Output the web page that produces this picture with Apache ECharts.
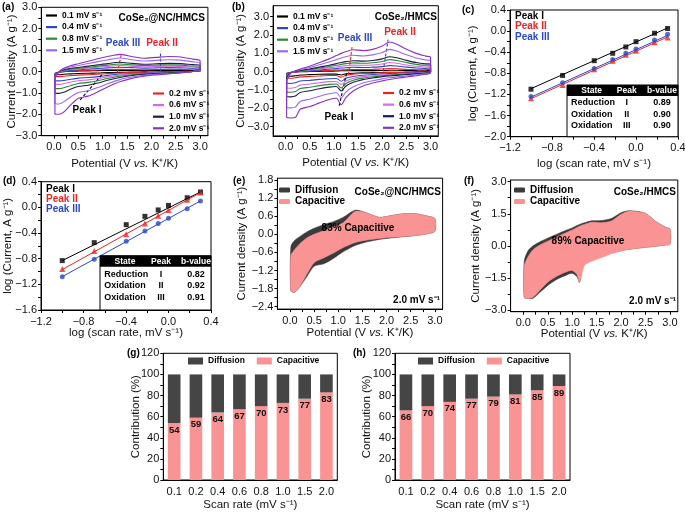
<!DOCTYPE html>
<html>
<head>
<meta charset="utf-8">
<script src="https://cdn.jsdelivr.net/npm/echarts@6/dist/echarts.min.js"></script>
<style>
  html, body { margin: 0; padding: 0; background: #fff; }
  #chart { width: 685px; height: 512px; }
</style>
</head>
<body>
<div id="chart"></div>
<script>
const FONT = "'Liberation Sans', Arial, Helvetica, sans-serif";

// scan rates (mV/s) shared by every panel
const rateNames = ['0.1', '0.2', '0.4', '0.6', '0.8', '1.0', '1.5', '2.0'];
const logRate = [-1.0, -0.699, -0.398, -0.222, -0.097, 0.0, 0.176, 0.301];

// (a) CoSe2@NC/HMCS CV curves: anodic (up) and cathodic (lo) branches
const potA = [0.02, 0.1, 0.2, 0.35, 0.5, 0.7, 0.9, 1.1, 1.35, 1.6, 1.85, 2.1, 2.35, 2.6, 2.85, 3.0];
const aUp01 = [-0.08, -0.04, -0.01, 0.01, 0.02, 0.03, 0.04, 0.05, 0.05, 0.05, 0.04, 0.05, 0.05, 0.05, 0.05, 0.08];
const aLo01 = [-0.14, -0.15, -0.13, -0.11, -0.09, -0.08, -0.07, -0.05, -0.04, -0.03, -0.02, -0.02, -0.01, -0.01, 0.00, 0.01];
const aUp02 = [-0.10, -0.04, 0.00, 0.03, 0.04, 0.06, 0.07, 0.09, 0.10, 0.09, 0.08, 0.09, 0.10, 0.09, 0.08, 0.12];
const aLo02 = [-0.22, -0.24, -0.22, -0.19, -0.17, -0.15, -0.13, -0.10, -0.07, -0.05, -0.04, -0.03, -0.02, -0.01, 0.00, 0.02];
const aUp04 = [-0.12, -0.03, 0.02, 0.06, 0.08, 0.11, 0.14, 0.17, 0.20, 0.18, 0.16, 0.17, 0.18, 0.17, 0.15, 0.18];
const aLo04 = [-0.42, -0.44, -0.42, -0.36, -0.31, -0.28, -0.24, -0.18, -0.12, -0.09, -0.07, -0.05, -0.04, -0.02, 0.00, 0.03];
const aUp06 = [-0.15, -0.03, 0.04, 0.09, 0.12, 0.16, 0.20, 0.24, 0.28, 0.25, 0.22, 0.24, 0.25, 0.24, 0.21, 0.22];
const aLo06 = [-0.60, -0.60, -0.57, -0.49, -0.43, -0.39, -0.33, -0.25, -0.17, -0.12, -0.09, -0.06, -0.05, -0.03, 0.00, 0.04];
const aUp08 = [-0.18, -0.03, 0.06, 0.12, 0.15, 0.20, 0.25, 0.30, 0.35, 0.31, 0.28, 0.30, 0.31, 0.30, 0.26, 0.26];
const aLo08 = [-0.80, -0.80, -0.76, -0.65, -0.56, -0.51, -0.43, -0.33, -0.22, -0.15, -0.11, -0.08, -0.06, -0.03, 0.00, 0.05];
const aUp10 = [-0.20, -0.02, 0.08, 0.15, 0.19, 0.25, 0.31, 0.37, 0.43, 0.38, 0.34, 0.36, 0.38, 0.37, 0.32, 0.30];
const aLo10 = [-1.00, -1.02, -0.97, -0.82, -0.70, -0.64, -0.54, -0.41, -0.28, -0.19, -0.13, -0.10, -0.07, -0.04, 0.00, 0.06];
const aUp15 = [-0.25, -0.02, 0.12, 0.22, 0.28, 0.37, 0.46, 0.54, 0.63, 0.55, 0.49, 0.52, 0.55, 0.53, 0.45, 0.40];
const aLo15 = [-1.50, -1.52, -1.42, -1.18, -0.98, -0.90, -0.75, -0.57, -0.38, -0.26, -0.18, -0.13, -0.09, -0.06, 0.00, 0.08];
const aUp20 = [-0.30, -0.02, 0.15, 0.28, 0.36, 0.48, 0.60, 0.70, 0.80, 0.70, 0.62, 0.66, 0.70, 0.68, 0.58, 0.50];
const aLo20 = [-2.00, -2.00, -1.90, -1.55, -1.25, -1.15, -0.95, -0.72, -0.48, -0.32, -0.22, -0.16, -0.11, -0.07, 0.00, 0.10];

// (b) CoSe2/HMCS CV curves
const potB = [0.02, 0.1, 0.2, 0.3, 0.5, 0.7, 0.9, 1.05, 1.15, 1.25, 1.4, 1.6, 1.8, 2.0, 2.15, 2.3, 2.5, 2.7, 2.9, 3.0];
const bUp01 = [-0.08, -0.04, -0.02, 0.00, 0.01, 0.02, 0.03, 0.04, 0.05, 0.05, 0.06, 0.06, 0.06, 0.07, 0.08, 0.08, 0.07, 0.06, 0.05, 0.10];
const bLo01 = [-0.25, -0.25, -0.22, -0.18, -0.16, -0.14, -0.13, -0.13, -0.18, -0.11, -0.08, -0.06, -0.05, -0.04, -0.03, -0.03, -0.02, -0.02, -0.01, 0.00];
const bUp02 = [-0.10, -0.04, -0.01, 0.01, 0.03, 0.05, 0.07, 0.09, 0.10, 0.11, 0.12, 0.12, 0.13, 0.15, 0.17, 0.16, 0.13, 0.11, 0.10, 0.14];
const bLo02 = [-0.35, -0.36, -0.33, -0.28, -0.26, -0.23, -0.21, -0.21, -0.30, -0.19, -0.14, -0.10, -0.08, -0.06, -0.05, -0.05, -0.04, -0.03, -0.02, 0.00];
const bUp04 = [-0.15, -0.04, 0.00, 0.03, 0.06, 0.10, 0.14, 0.17, 0.20, 0.22, 0.24, 0.23, 0.25, 0.28, 0.33, 0.31, 0.25, 0.20, 0.18, 0.22];
const bLo04 = [-0.62, -0.64, -0.60, -0.51, -0.47, -0.42, -0.38, -0.37, -0.52, -0.35, -0.26, -0.19, -0.15, -0.12, -0.10, -0.09, -0.07, -0.05, -0.03, -0.01];
const bUp06 = [-0.20, -0.05, 0.00, 0.04, 0.09, 0.15, 0.21, 0.26, 0.30, 0.33, 0.36, 0.35, 0.37, 0.42, 0.50, 0.46, 0.37, 0.30, 0.26, 0.28];
const bLo06 = [-0.88, -0.90, -0.86, -0.73, -0.67, -0.60, -0.54, -0.53, -0.70, -0.50, -0.37, -0.27, -0.22, -0.17, -0.15, -0.13, -0.10, -0.08, -0.05, -0.02];
const bUp08 = [-0.25, -0.05, 0.01, 0.05, 0.12, 0.20, 0.28, 0.35, 0.40, 0.44, 0.48, 0.46, 0.49, 0.56, 0.66, 0.61, 0.50, 0.40, 0.35, 0.36];
const bLo08 = [-1.10, -1.12, -1.08, -0.92, -0.85, -0.76, -0.69, -0.67, -0.88, -0.64, -0.47, -0.35, -0.28, -0.22, -0.19, -0.16, -0.13, -0.10, -0.06, -0.02];
const bUp10 = [-0.30, -0.06, 0.02, 0.07, 0.15, 0.25, 0.35, 0.44, 0.50, 0.55, 0.60, 0.58, 0.61, 0.70, 0.82, 0.76, 0.62, 0.50, 0.43, 0.42];
const bLo10 = [-1.35, -1.37, -1.33, -1.13, -1.04, -0.93, -0.84, -0.81, -1.05, -0.78, -0.58, -0.43, -0.34, -0.27, -0.23, -0.20, -0.16, -0.12, -0.08, -0.03];
const bUp15 = [-0.45, -0.08, 0.04, 0.11, 0.23, 0.38, 0.53, 0.66, 0.75, 0.82, 0.90, 0.86, 0.92, 1.05, 1.22, 1.13, 0.92, 0.75, 0.64, 0.60];
const bLo15 = [-1.95, -1.97, -1.93, -1.62, -1.50, -1.34, -1.20, -1.15, -1.42, -1.10, -0.82, -0.61, -0.49, -0.39, -0.33, -0.28, -0.23, -0.17, -0.11, -0.04];
const bUp20 = [-0.50, -0.10, 0.05, 0.15, 0.30, 0.50, 0.70, 0.88, 1.00, 1.10, 1.20, 1.15, 1.22, 1.40, 1.62, 1.50, 1.22, 1.00, 0.85, 0.78];
const bLo20 = [-2.50, -2.52, -2.50, -2.05, -1.90, -1.70, -1.52, -1.45, -1.80, -1.40, -1.05, -0.78, -0.62, -0.50, -0.42, -0.36, -0.29, -0.22, -0.14, -0.05];

// dashed peak-shift arrows: [start, end] in data units
const arrowsA = [[[0.98, -0.16], [0.53, -1.35]], [[1.30, -0.05], [1.39, 0.86]], [[2.18, 0.0], [2.18, 0.95]]];
const arrowsB = [[[1.26, -0.10], [1.10, -1.95]], [[1.30, -0.17], [1.38, 1.45]], [[2.02, 0.02], [2.12, 1.75]]];

// (c) / (d) log(peak current) vs log(scan rate)
const cPeak1 = [-1.10, -0.84, -0.56, -0.42, -0.30, -0.20, -0.04, 0.05];
const cPeak2 = [-1.27, -1.02, -0.72, -0.56, -0.45, -0.37, -0.21, -0.12];
const cPeak3 = [-1.24, -0.98, -0.71, -0.54, -0.42, -0.34, -0.17, -0.06];
const cFit1 = [[-1.0, -1.09], [0.301, 0.06]];
const cFit2 = [[-1.0, -1.28], [0.301, -0.11]];
const cFit3 = [[-1.0, -1.25], [0.301, -0.08]];
const dPeak1 = [-0.83, -0.55, -0.27, -0.14, -0.04, 0.03, 0.15, 0.24];
const dPeak2 = [-0.96, -0.68, -0.42, -0.25, -0.13, -0.04, 0.12, 0.23];
const dPeak3 = [-1.08, -0.81, -0.53, -0.37, -0.25, -0.17, -0.02, 0.10];
const dFit1 = [[-1.0, -0.83], [0.301, 0.24]];
const dFit2 = [[-1.0, -0.97], [0.301, 0.23]];
const dFit3 = [[-1.0, -1.08], [0.301, 0.10]];
const tableHeader = ['State', 'Peak', 'b-value'];
const tableC = [['Reduction', 'I', '0.89'], ['Oxidation', 'II', '0.90'], ['Oxidation', 'III', '0.90']];
const tableD = [['Reduction', 'I', '0.82'], ['Oxidation', 'II', '0.92'], ['Oxidation', 'III', '0.91']];

// (e) / (f) total (diffusion) vs capacitive CV at 2.0 mV/s
const potE = [0.02, 0.1, 0.2, 0.35, 0.5, 0.7, 0.9, 1.1, 1.35, 1.6, 1.85, 2.1, 2.35, 2.6, 2.85, 3.0];
const eTotUp = [-0.40, -0.20, -0.08, 0.08, 0.20, 0.32, 0.42, 0.56, 0.80, 0.70, 0.56, 0.62, 0.68, 0.68, 0.60, 0.52];
const eTotLo = [-1.88, -1.92, -1.75, -1.40, -1.06, -0.98, -0.80, -0.58, -0.37, -0.25, -0.17, -0.12, -0.08, -0.04, 0.02, 0.10];
const eCapUp = [-0.70, -0.50, -0.32, -0.12, 0.00, 0.12, 0.24, 0.38, 0.76, 0.70, 0.56, 0.62, 0.68, 0.68, 0.60, 0.52];
const eCapLo = [-1.88, -1.92, -1.75, -1.32, -0.94, -0.78, -0.62, -0.44, -0.27, -0.19, -0.14, -0.10, -0.07, -0.04, 0.02, 0.10];
const potF = [0.02, 0.1, 0.2, 0.35, 0.5, 0.7, 0.9, 1.0, 1.1, 1.15, 1.25, 1.4, 1.6, 1.8, 2.0, 2.15, 2.3, 2.5, 2.7, 2.9, 3.0];
const fTotUp = [-0.70, -0.22, 0.00, 0.20, 0.36, 0.56, 0.75, 0.84, 0.95, 1.00, 1.08, 1.17, 1.18, 1.28, 1.55, 1.64, 1.62, 1.52, 1.15, 0.88, 0.78];
const fTotLo = [-2.42, -2.45, -2.45, -2.15, -1.85, -1.55, -1.35, -1.28, -1.45, -1.72, -0.60, -0.55, -0.48, -0.34, -0.22, -0.16, -0.12, -0.07, -0.02, 0.04, 0.08];
const fCapUp = [-0.95, -0.50, -0.18, 0.05, 0.22, 0.43, 0.64, 0.74, 0.86, 0.92, 1.00, 1.10, 1.08, 1.16, 1.48, 1.62, 1.60, 1.52, 1.15, 0.88, 0.78];
const fCapLo = [-2.42, -2.45, -2.40, -2.05, -1.70, -1.40, -1.20, -1.15, -1.35, -1.72, -0.92, -0.72, -0.55, -0.37, -0.24, -0.17, -0.12, -0.07, -0.02, 0.04, 0.08];

// (g) / (h) contribution (%)
const gCap = [54, 59, 64, 67, 70, 73, 77, 83];
const gDif = [46, 41, 36, 33, 30, 27, 23, 17];
const hCap = [66, 70, 74, 77, 79, 81, 85, 89];
const hDif = [34, 30, 26, 23, 21, 19, 15, 11];

// ticks and tick labels
const cvXTicks = [0, 0.25, 0.5, 0.75, 1, 1.25, 1.5, 1.75, 2, 2.25, 2.5, 2.75, 3];
const cvXLabels = [0, 0.5, 1, 1.5, 2, 2.5, 3];
const abYTicks = [-3, -2.5, -2, -1.5, -1, -0.5, 0, 0.5, 1, 1.5, 2, 2.5, 3];
const abYLabels = [-3, -2, -1, 0, 1, 2, 3];
const logXTicks = [-1.2, -1.0, -0.8, -0.6, -0.4, -0.2, 0, 0.2, 0.4];
const logXLabels = [-1.2, -0.8, -0.4, 0, 0.4];
const cYTicks = [-2.0, -1.8, -1.6, -1.4, -1.2, -1.0, -0.8, -0.6, -0.4, -0.2, 0, 0.2, 0.4];
const cYLabels = [-2.0, -1.6, -1.2, -0.8, -0.4, 0, 0.4];
const dYTicks = [-1.6, -1.4, -1.2, -1.0, -0.8, -0.6, -0.4, -0.2, 0, 0.2, 0.4];
const dYLabels = [-1.6, -1.2, -0.8, -0.4, 0, 0.4];
const eYTicks = [-2.4, -2.1, -1.8, -1.5, -1.2, -0.9, -0.6, -0.3, 0, 0.3, 0.6, 0.9, 1.2, 1.5, 1.8];
const eYLabels = [-2.4, -1.8, -1.2, -0.6, 0, 0.6, 1.2, 1.8];
const fYTicks = [-3, -2.25, -1.5, -0.75, 0, 0.75, 1.5, 2.25, 3];
const fYLabels = [-3, -1.5, 0, 1.5, 3];
const barYTicks = [0, 10, 20, 30, 40, 50, 60, 70, 80, 90, 100, 110, 120];
const barYLabels = [0, 20, 40, 60, 80, 100, 120];

const rateColors = ['#000000', '#ee2424', '#2c48c8', '#d468ea', '#2b8a2b', '#1c1c4e', '#9a6af0', '#8a32c2'];
const peakColors = ['#000000', '#ee2424', '#2c48c8'];
const DARK = '#3b3b3b';
const PINK = '#fa9393';
const rateLabels = rateNames.map(r => r + ' mV s\u207B\u00B9');
const SUP = ' (A g\u207B\u00B9)';

const chart = echarts.init(document.getElementById('chart'), null, { renderer: 'canvas' });

function loopPts(pot, up, lo) {
  const pts = pot.map((p, i) => [p, up[i]]);
  for (let i = pot.length - 1; i >= 0; i--) pts.push([pot[i], lo[i]]);
  return pts;
}

const fmt1 = v => (v < -1e-9 ? '\u2212' : '') + Math.abs(v).toFixed(1);
const fmt0 = v => String(v);
const nameStyle = { fontSize: 11.5, color: '#111', fontFamily: FONT };
const potName = 'Potential (V {i|vs.} K\u207A/K)';
const potNameStyle = Object.assign({}, nameStyle, { rich: { i: { fontStyle: 'italic', fontSize: 11.5, color: '#111', fontFamily: FONT } } });
const axisLine = { show: true, onZero: false, lineStyle: { color: '#000', width: 1 } };

function valueAxis(gi, min, max, ticks, labels, fmt, name, gap, extra) {
  return Object.assign({
    type: 'value', gridIndex: gi, min: min, max: max,
    name: name, nameLocation: 'middle', nameGap: gap, nameMoveOverlap: false,
    nameTextStyle: nameStyle,
    axisLine: axisLine,
    axisTick: { show: true, length: 3, customValues: ticks, lineStyle: { color: '#000', width: 1 } },
    axisLabel: { customValues: labels, formatter: fmt, fontSize: 11, color: '#111', margin: 4, fontFamily: FONT },
    splitLine: { show: false }
  }, extra || {});
}
function xLabel(ticks, labels, fmt) {
  return {
    axisLabel: { customValues: labels, formatter: fmt, fontSize: 11, color: '#111', margin: 6, fontFamily: FONT }
  };
}

function catAxis(gi, gap) {
  return {
    type: 'category', gridIndex: gi, data: rateNames,
    name: 'Scan rate (mV s\u207B\u00B9)', nameLocation: 'middle', nameGap: gap, nameMoveOverlap: false,
    nameTextStyle: nameStyle,
    axisLine: axisLine,
    axisTick: { alignWithLabel: true, length: 3, lineStyle: { color: '#000' } },
    axisLabel: { interval: 0, fontSize: 11, color: '#111', margin: 6, fontFamily: FONT },
    splitLine: { show: false }
  };
}

function grid(left, top, width, height) {
  return { left, top, width, height, show: true, borderColor: '#000', borderWidth: 1,
    containLabel: false, outerBoundsMode: 'none' };
}

function cvSeries(gi, pot, ups, los, arrows) {
  return ups.map((up, i) => {
    const s = {
      type: 'line', name: rateLabels[i], xAxisIndex: gi, yAxisIndex: gi,
      data: loopPts(pot, up, los[i]).concat([[pot[0], up[0]]]),
      symbol: 'none', smooth: 0.25, silent: true, z: 2 + i,
      lineStyle: { color: rateColors[i], width: 1.1 }, itemStyle: { color: rateColors[i] }
    };
    if (i === 0) {
      s.markLine = {
        silent: true, symbol: ['none', 'arrow'], symbolSize: [0, 6], animation: false,
        label: { show: false }, emphasis: { disabled: true },
        data: arrows.map((a, k) => [
          { coord: a[0], lineStyle: { color: peakColors[k], type: [3, 2], width: 1.1 }, itemStyle: { color: peakColors[k] } },
          { coord: a[1] }
        ])
      };
    }
    return s;
  });
}

function peakSeries(gi, peaks, fits) {
  const syms = ['rect', 'triangle', 'circle'];
  const out = [];
  peaks.forEach((p, k) => {
    out.push({ type: 'line', xAxisIndex: gi, yAxisIndex: gi, data: fits[k], symbol: 'none', silent: true,
      lineStyle: { color: peakColors[k], width: 1 } });
    out.push({ type: 'scatter', xAxisIndex: gi, yAxisIndex: gi, data: logRate.map((x, i) => [x, p[i]]),
      symbol: syms[k], symbolSize: k === 1 ? 6 : 5, silent: true, itemStyle: { color: peakColors[k] } });
  });
  return out;
}

function polySeries(name, gi, pot, up, lo, color, z) {
  const pts = loopPts(pot, up, lo);
  return {
    type: 'custom', name: name, xAxisIndex: gi, yAxisIndex: gi, silent: true, z: z,
    data: [pts[0]], itemStyle: { color: color },
    renderItem: (params, api) => ({
      type: 'polygon',
      shape: { points: pts.map(p => api.coord(p)), smooth: 0.25 },
      style: { fill: color, stroke: color, lineWidth: 0.6 }
    })
  };
}

function barSeries(gi, cap, dif, stack) {
  return [
    { type: 'bar', name: 'Capacitive', xAxisIndex: gi, yAxisIndex: gi, stack: stack, data: cap,
      barWidth: '58%', itemStyle: { color: PINK }, silent: true,
      label: { show: true, position: 'insideTop', distance: 2, color: '#111', fontSize: 9.5, fontWeight: 'bold', fontFamily: FONT } },
    { type: 'bar', name: 'Diffusion', xAxisIndex: gi, yAxisIndex: gi, stack: stack, data: dif,
      barWidth: '58%', itemStyle: { color: '#454545' }, silent: true }
  ];
}

function lineLegend(names, left, top) {
  return { data: names.map(n => ({ name: n, icon: 'rect' })), left, top, orient: 'vertical', padding: 0,
    itemWidth: 11, itemHeight: 2.2, itemGap: 2.6, selectedMode: false,
    textStyle: { fontSize: 8.5, fontWeight: 'bold', color: '#000', fontFamily: FONT } };
}
function areaLegend(left, top) {
  return { left, top, orient: 'vertical', padding: 0, itemWidth: 11, itemHeight: 5, itemGap: 1.5, selectedMode: false,
    data: [{ name: 'Diffusion', icon: 'roundRect', itemStyle: { color: DARK } },
           { name: 'Capacitive', icon: 'roundRect', itemStyle: { color: PINK } }],
    textStyle: { fontSize: 10, fontWeight: 'bold', color: '#000', fontFamily: FONT } };
}
function barLegend(left, top) {
  return { left, top, orient: 'horizontal', padding: 0, itemWidth: 15, itemHeight: 7, itemGap: 12, selectedMode: false,
    data: [{ name: 'Diffusion', icon: 'rect', itemStyle: { color: '#454545' } },
           { name: 'Capacitive', icon: 'rect', itemStyle: { color: PINK } }],
    textStyle: { fontSize: 8.5, fontWeight: 'bold', color: '#000', fontFamily: FONT } };
}

function txt(x, y, text, o) {
  o = o || {};
  const align = o.align || 'left';
  return { type: 'text', x: x, y: y, z: 100, silent: true,
    style: { text: text, fill: o.fill || '#000', font: (o.font || 'bold 10px') + ' ' + FONT,
      align: align, verticalAlign: 'middle', textAlign: align, textVerticalAlign: 'middle' } };
}

function tableEls(x, y, w, h, hh, cols, rowLeft, rowYs, rows) {
  const els = [
    { type: 'rect', z: 90, silent: true, shape: { x: x, y: y, width: w, height: h }, style: { fill: '#fff', stroke: '#000', lineWidth: 1 } },
    { type: 'rect', z: 91, silent: true, shape: { x: x, y: y, width: w, height: hh }, style: { fill: '#000' } }
  ];
  tableHeader.forEach((t, i) => els.push(txt(cols[i], y + hh / 2 + 0.5, t, { fill: '#fff', align: 'center', font: 'bold 8.5px' })));
  rows.forEach((r, j) => {
    els.push(txt(rowLeft, rowYs[j], r[0], { font: 'bold 9px' }));
    els.push(txt(cols[1], rowYs[j], r[1], { align: 'center', font: 'bold 9px' }));
    els.push(txt(cols[2], rowYs[j], r[2], { align: 'center', font: 'bold 9px' }));
  });
  return els;
}

const graphics = [
  txt(2, 7, '(a)'),
  txt(205, 18, 'CoSe\u2082@NC/HMCS', { align: 'right' }),
  txt(123, 43, 'Peak III', { align: 'center', fill: peakColors[2] }),
  txt(162, 43, 'Peak II', { align: 'center', fill: peakColors[1] }),
  txt(87, 110, 'Peak I', { align: 'center' }),
  txt(232, 7, '(b)'),
  txt(437, 17, 'CoSe\u2082/HMCS', { align: 'right' }),
  txt(355, 38, 'Peak III', { align: 'center', fill: peakColors[2] }),
  txt(400, 32, 'Peak II', { align: 'center', fill: peakColors[1] }),
  txt(339, 117, 'Peak I', { align: 'center' }),
  txt(462, 10, '(c)'),
  txt(515, 16, 'Peak I'),
  txt(515, 26.5, 'Peak II', { fill: peakColors[1] }),
  txt(515, 37, 'Peak III', { fill: peakColors[2] }),
  txt(3, 181, '(d)'),
  txt(46, 189, 'Peak I'),
  txt(46, 199, 'Peak II', { fill: peakColors[1] }),
  txt(46, 209, 'Peak III', { fill: peakColors[2] }),
  txt(233, 181, '(e)'),
  txt(441, 192, 'CoSe\u2082@NC/HMCS', { align: 'right' }),
  txt(358, 228, '83% Capacitive', { align: 'center' }),
  txt(440, 300, '2.0 mV s\u207B\u00B9', { align: 'right' }),
  txt(464, 181, '(f)'),
  txt(676, 192, 'CoSe\u2082/HMCS', { align: 'right' }),
  txt(588, 241, '89% Capacitive', { align: 'center' }),
  txt(676, 301, '2.0 mV s\u207B\u00B9', { align: 'right' }),
  txt(127, 353, '(g)'),
  txt(353, 353, '(h)')
].concat(
  tableEls(567, 85, 111, 51.7, 11, [591.7, 626.7, 662], 571, [102.7, 114.3, 126], tableC),
  tableEls(100, 255.7, 111, 54.3, 11, [125, 161, 196], 104.3, [274.3, 286, 297.7], tableD)
);

const option = {
  animation: false,
  backgroundColor: '#fff',
  textStyle: { fontFamily: FONT },
  grid: [
    grid(41.3, 7.3, 166.6, 128.4),
    grid(273.1, 5.7, 165.2, 130.2),
    grid(510, 10, 168, 126.7),
    grid(41, 181.7, 170, 128.3),
    grid(277.4, 178.2, 165.2, 130.9),
    grid(510.6, 180, 167.2, 131.7),
    grid(163.3, 353.3, 174, 126.7),
    grid(395, 353.3, 175, 126.7)
  ],
  xAxis: [
    valueAxis(0, -0.26, 3.16, cvXTicks, cvXLabels, fmt1, potName, 22, Object.assign({ nameTextStyle: potNameStyle }, xLabel(cvXTicks, cvXLabels, fmt1))),
    valueAxis(1, -0.26, 3.16, cvXTicks, cvXLabels, fmt1, potName, 21, Object.assign({ nameTextStyle: potNameStyle }, xLabel(cvXTicks, cvXLabels, fmt1))),
    valueAxis(2, -1.2, 0.4, logXTicks, logXLabels, fmt1, 'log (scan rate, mV s\u207B\u00B9)', 21, xLabel(logXTicks, logXLabels, fmt1)),
    valueAxis(3, -1.2, 0.4, logXTicks, logXLabels, fmt1, 'log (scan rate, mV s\u207B\u00B9)', 17, xLabel(logXTicks, logXLabels, fmt1)),
    valueAxis(4, -0.26, 3.16, cvXTicks, cvXLabels, fmt1, potName, 17.5, Object.assign({ nameTextStyle: potNameStyle }, xLabel(cvXTicks, cvXLabels, fmt1))),
    valueAxis(5, -0.26, 3.16, cvXTicks, cvXLabels, fmt1, potName, 16, Object.assign({ nameTextStyle: potNameStyle }, xLabel(cvXTicks, cvXLabels, fmt1))),
    catAxis(6, 19),
    catAxis(7, 19)
  ],
  yAxis: [
    valueAxis(0, -3, 3, abYTicks, abYLabels, fmt1, 'Current density' + SUP, 23),
    valueAxis(1, -3.5, 3.6, abYTicks, abYLabels, fmt1, 'Current density' + SUP, 26),
    valueAxis(2, -2.0, 0.4, cYTicks, cYLabels, fmt1, 'log (Current, A g\u207B\u00B9)', 31),
    valueAxis(3, -1.6, 0.4, dYTicks, dYLabels, fmt1, 'log (Current, A g\u207B\u00B9)', 27),
    valueAxis(4, -2.48, 1.86, eYTicks, eYLabels, fmt1, 'Current density' + SUP, 30),
    valueAxis(5, -3.08, 3.08, fYTicks, fYLabels, fmt1, 'Current density' + SUP, 29),
    valueAxis(6, 0, 120, barYTicks, barYLabels, fmt0, 'Contribution (%)', 21),
    valueAxis(7, 0, 120, barYTicks, barYLabels, fmt0, 'Contribution (%)', 22)
  ],
  legend: [
    lineLegend([rateLabels[0], rateLabels[2], rateLabels[4], rateLabels[6]], 46, 11),
    lineLegend([rateLabels[1], rateLabels[3], rateLabels[5], rateLabels[7]], 153, 89),
    lineLegend([rateLabels[0], rateLabels[2], rateLabels[4], rateLabels[6]], 277, 12),
    lineLegend([rateLabels[1], rateLabels[3], rateLabels[5], rateLabels[7]], 383, 88.5),
    areaLegend(279, 185),
    areaLegend(514, 185),
    barLegend(188, 356.5),
    barLegend(418, 356.5)
  ],
  series: [].concat(
    cvSeries(0, potA, [aUp01, aUp02, aUp04, aUp06, aUp08, aUp10, aUp15, aUp20],
      [aLo01, aLo02, aLo04, aLo06, aLo08, aLo10, aLo15, aLo20], arrowsA),
    cvSeries(1, potB, [bUp01, bUp02, bUp04, bUp06, bUp08, bUp10, bUp15, bUp20],
      [bLo01, bLo02, bLo04, bLo06, bLo08, bLo10, bLo15, bLo20], arrowsB),
    peakSeries(2, [cPeak1, cPeak2, cPeak3], [cFit1, cFit2, cFit3]),
    peakSeries(3, [dPeak1, dPeak2, dPeak3], [dFit1, dFit2, dFit3]),
    [polySeries('Diffusion', 4, potE, eTotUp, eTotLo, DARK, 2),
     polySeries('Capacitive', 4, potE, eCapUp, eCapLo, PINK, 3),
     polySeries('Diffusion', 5, potF, fTotUp, fTotLo, DARK, 2),
     polySeries('Capacitive', 5, potF, fCapUp, fCapLo, PINK, 3)],
    barSeries(6, gCap, gDif, 'g'),
    barSeries(7, hCap, hDif, 'h')
  ),
  graphic: graphics
};

chart.setOption(option);
</script>
</body>
</html>
